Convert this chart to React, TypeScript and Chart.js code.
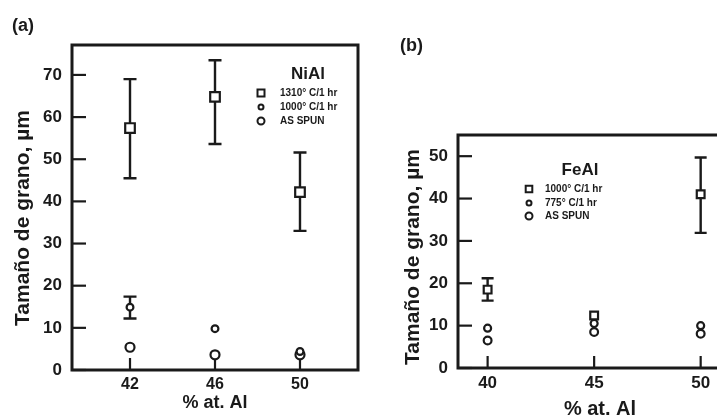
import React, { useEffect, useRef } from "react";
import { Chart, registerables } from "chart.js";

Chart.register(...registerables);

const FONT = '"Liberation Sans", Arial, Helvetica, sans-serif';
const INK = "#1a1a1a";

// ---------- Panel (a): NiAl ----------
const niAlComposition = [42, 46, 50];
const niAlTicksX = [42, 46, 50];
const niAlTicksY = [0, 10, 20, 30, 40, 50, 60, 70];
const niAl1310 = [57.4, 64.8, 42.2];
const niAl1310Low = [45.5, 53.6, 33.0];
const niAl1310High = [69.0, 73.5, 51.6];
const niAl1000 = [14.9, 9.8, 4.4];
const niAl1000Low = [12.2, null, null];
const niAl1000High = [17.4, null, null];
const niAlSpun = [5.4, 3.6, 3.6];
const niAlLabels = ["1310° C/1 hr", "1000° C/1 hr", "AS SPUN"];
const niAlTitle = "NiAl";

// ---------- Panel (b): FeAl ----------
const feAlComposition = [40, 45, 50];
const feAlTicksX = [40, 45, 50];
const feAlTicksY = [0, 10, 20, 30, 40, 50];
const feAl1000 = [18.5, 12.4, 41.0];
const feAl1000Low = [15.9, null, 31.9];
const feAl1000High = [21.2, null, 49.7];
const feAl775 = [9.4, 10.5, 10.0];
const feAlSpun = [6.5, 8.5, 8.1];
const feAlLabels = ["1000° C/1 hr", "775° C/1 hr", "AS SPUN"];
const feAlTitle = "FeAl";

const yAxisTitle = "Tamaño de grano, µm";
const xAxisTitle = "% at. Al";

const pts = (xs: number[], ys: number[]) => xs.map((x, i) => ({ x, y: ys[i] }));

function drawMarker(ctx: CanvasRenderingContext2D, style: string, r: number, x: number, y: number) {
  ctx.beginPath();
  if (style === "rect") {
    ctx.rect(x - r, y - r, 2 * r, 2 * r);
  } else {
    ctx.arc(x, y, r, 0, Math.PI * 2);
  }
  ctx.fillStyle = "#fff";
  ctx.fill();
  ctx.stroke();
}

const decorPlugin = {
  id: "decor",
  beforeDatasetsDraw(chart: any, _args: any, opts: any) {
    const { ctx, chartArea: a, scales } = chart;
    const xs = scales.x;
    const ys = scales.y;
    ctx.save();
    ctx.strokeStyle = INK;
    ctx.lineWidth = 2.2;
    // inward tick marks
    xs.ticks.forEach((t: any) => {
      const px = xs.getPixelForValue(t.value);
      ctx.beginPath();
      ctx.moveTo(px, a.bottom);
      ctx.lineTo(px, a.bottom - opts.xTickLen);
      ctx.stroke();
    });
    ys.ticks.forEach((t: any) => {
      const py = ys.getPixelForValue(t.value);
      ctx.beginPath();
      ctx.moveTo(a.left, py);
      ctx.lineTo(a.left + opts.yTickLen, py);
      ctx.stroke();
    });
    // error bars
    ctx.lineWidth = 2.4;
    chart.data.datasets.forEach((ds: any) => {
      if (!ds.errLow) return;
      ds.data.forEach((p: any, j: number) => {
        const lo = ds.errLow[j];
        const hi = ds.errHigh[j];
        if (lo == null || hi == null) return;
        const px = xs.getPixelForValue(p.x);
        const pl = ys.getPixelForValue(lo);
        const ph = ys.getPixelForValue(hi);
        ctx.beginPath();
        ctx.moveTo(px, pl);
        ctx.lineTo(px, ph);
        ctx.moveTo(px - opts.cap, pl);
        ctx.lineTo(px + opts.cap, pl);
        ctx.moveTo(px - opts.cap, ph);
        ctx.lineTo(px + opts.cap, ph);
        ctx.stroke();
      });
    });
    ctx.restore();
  },
  afterDraw(chart: any, _args: any, opts: any) {
    const { ctx, chartArea: a } = chart;
    ctx.save();
    // frame
    ctx.strokeStyle = INK;
    ctx.lineWidth = 3;
    ctx.strokeRect(a.left, a.top, a.right - a.left, a.bottom - a.top);
    ctx.fillStyle = INK;
    // y title
    ctx.save();
    ctx.font = `bold ${opts.yTitleSize}px ${FONT}`;
    ctx.textAlign = "center";
    ctx.textBaseline = "middle";
    ctx.translate(opts.yTitleX, opts.yTitleY);
    ctx.rotate(-Math.PI / 2);
    ctx.fillText(yAxisTitle, 0, 0);
    ctx.restore();
    // x title
    ctx.font = `bold ${opts.xTitleSize}px ${FONT}`;
    ctx.textAlign = "center";
    ctx.textBaseline = "middle";
    ctx.fillText(xAxisTitle, opts.xTitleX, opts.xTitleY);
    // legend
    ctx.font = `bold ${opts.legendTitleSize}px ${FONT}`;
    ctx.fillText(opts.legendTitle, opts.legendTitleX, opts.legendTitleY);
    ctx.lineWidth = 2;
    chart.data.datasets.forEach((ds: any, i: number) => {
      const yy = opts.legendRows[i];
      ctx.strokeStyle = INK;
      drawMarker(ctx, ds.pointStyle, opts.legendSizes[i], opts.legendMarkerX, yy);
      ctx.fillStyle = INK;
      ctx.font = `bold 10px ${FONT}`;
      ctx.textAlign = "left";
      ctx.textBaseline = "middle";
      ctx.fillText(ds.label, opts.legendTextX, yy);
    });
    ctx.restore();
  },
};

const tickFont = (size: number) => ({ family: FONT, size, weight: "bold" as const });

function pointDs(label: string, data: any[], style: string, r: number, extra: any = {}) {
  return {
    label,
    data,
    pointStyle: style,
    pointRadius: r,
    pointBorderWidth: 2.2,
    pointBorderColor: INK,
    pointBackgroundColor: "#fff",
    showLine: false,
    ...extra,
  };
}

function configA(): any {
  return {
    type: "scatter",
    data: {
      datasets: [
        pointDs(niAlLabels[0], pts(niAlComposition, niAl1310), "rect", 6.8, { errLow: niAl1310Low, errHigh: niAl1310High }),
        pointDs(niAlLabels[1], pts(niAlComposition, niAl1000), "circle", 3.4, { errLow: niAl1000Low, errHigh: niAl1000High }),
        pointDs(niAlLabels[2], pts(niAlComposition, niAlSpun), "circle", 4.5),
      ],
    },
    options: {
      responsive: false,
      animation: false,
      devicePixelRatio: 1,
      events: [],
      layout: { autoPadding: false, padding: { left: 0, right: 2, top: 45, bottom: 0 } },
      scales: {
        x: {
          type: "linear",
          min: 39.27,
          max: 52.73,
          afterFit: (s: any) => { s.height = 47; },
          afterBuildTicks: (s: any) => { s.ticks = niAlTicksX.map((v) => ({ value: v })); },
          grid: { display: false, drawTicks: false },
          border: { display: false },
          ticks: { font: tickFont(16), color: INK, padding: 4.5, maxRotation: 0, autoSkip: false },
        },
        y: {
          type: "linear",
          min: 0,
          max: 77.1,
          afterFit: (s: any) => { s.width = 72; },
          afterBuildTicks: (s: any) => { s.ticks = niAlTicksY.map((v) => ({ value: v })); },
          grid: { display: false, drawTicks: false },
          border: { display: false },
          ticks: { font: tickFont(17), color: INK, padding: 10, autoSkip: false },
        },
      },
      plugins: {
        legend: { display: false },
        tooltip: { enabled: false },
        decor: {
          xTickLen: 12,
          yTickLen: 14,
          cap: 6.5,
          yTitleX: 23,
          yTitleY: 218,
          yTitleSize: 21,
          xTitleX: 215,
          xTitleY: 403,
          xTitleSize: 18,
          legendTitle: niAlTitle,
          legendTitleX: 308,
          legendTitleY: 74,
          legendTitleSize: 17,
          legendMarkerX: 261,
          legendTextX: 280,
          legendRows: [93, 107, 121],
          legendSizes: [3.5, 2.5, 3.5],
        },
      },
    },
    plugins: [decorPlugin],
  };
}

function configB(): any {
  return {
    type: "scatter",
    data: {
      datasets: [
        pointDs(feAlLabels[0], pts(feAlComposition, feAl1000), "rect", 5.5, { errLow: feAl1000Low, errHigh: feAl1000High }),
        pointDs(feAlLabels[1], pts(feAlComposition, feAl775), "circle", 3.5),
        pointDs(feAlLabels[2], pts(feAlComposition, feAlSpun), "circle", 3.9),
      ],
    },
    options: {
      responsive: false,
      animation: false,
      devicePixelRatio: 1,
      events: [],
      layout: { autoPadding: false, padding: { left: 0, right: 18, top: 135, bottom: 0 } },
      scales: {
        x: {
          type: "linear",
          min: 38.61,
          max: 51.94,
          afterFit: (s: any) => { s.height = 49; },
          afterBuildTicks: (s: any) => { s.ticks = feAlTicksX.map((v) => ({ value: v })); },
          grid: { display: false, drawTicks: false },
          border: { display: false },
          ticks: { font: tickFont(17), color: INK, padding: 5.5, maxRotation: 0, autoSkip: false },
        },
        y: {
          type: "linear",
          min: 0,
          max: 55,
          afterFit: (s: any) => { s.width = 98; },
          afterBuildTicks: (s: any) => { s.ticks = feAlTicksY.map((v) => ({ value: v })); },
          grid: { display: false, drawTicks: false },
          border: { display: false },
          ticks: { font: tickFont(17), color: INK, padding: 10, autoSkip: false },
        },
      },
      plugins: {
        legend: { display: false },
        tooltip: { enabled: false },
        decor: {
          xTickLen: 12,
          yTickLen: 14,
          cap: 6,
          yTitleX: 53,
          yTitleY: 257,
          yTitleSize: 21,
          xTitleX: 240,
          xTitleY: 409,
          xTitleSize: 20,
          legendTitle: feAlTitle,
          legendTitleX: 220,
          legendTitleY: 170,
          legendTitleSize: 17,
          legendMarkerX: 169,
          legendTextX: 185,
          legendRows: [189, 203, 216],
          legendSizes: [3.3, 2.5, 3.5],
        },
      },
    },
    plugins: [decorPlugin],
  };
}

function ChartCanvas({ make, left, width }: { make: () => any; left: number; width: number }) {
  const ref = useRef<HTMLCanvasElement | null>(null);
  useEffect(() => {
    if (!ref.current) return;
    const chart = new Chart(ref.current, make());
    return () => chart.destroy();
  }, [make]);
  return (
    <canvas
      ref={ref}
      width={width}
      height={417}
      style={{ position: "absolute", left, top: 0, width, height: 417, display: "block" }}
    />
  );
}

const labelStyle: React.CSSProperties = {
  position: "absolute",
  font: `bold 18px ${FONT}`,
  lineHeight: "18px",
  color: INK,
  whiteSpace: "nowrap",
};

export default function App() {
  return (
    <div
      style={{
        position: "fixed",
        left: 0,
        top: 0,
        width: 717,
        height: 417,
        overflow: "hidden",
        background: "#fff",
      }}
    >
      <ChartCanvas make={configA} left={0} width={360} />
      <ChartCanvas make={configB} left={360} width={400} />
      <span style={{ ...labelStyle, left: 12, top: 16 }}>(a)</span>
      <span style={{ ...labelStyle, left: 400, top: 36 }}>(b)</span>
    </div>
  );
}
